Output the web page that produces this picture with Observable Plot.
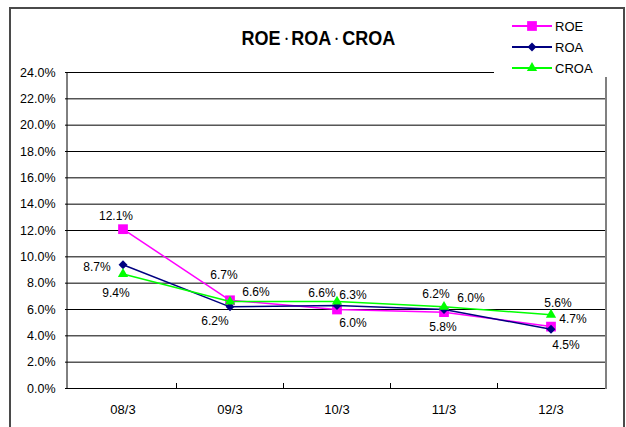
<!DOCTYPE html>
<html>
<head>
<meta charset="utf-8">
<script src="https://cdn.jsdelivr.net/npm/d3@7"></script>
<script src="https://cdn.jsdelivr.net/npm/@observablehq/plot@0.6"></script>
<style>
  html, body { margin: 0; padding: 0; background: #fff; overflow: hidden; }
  #wrap { position: relative; width: 626px; height: 427px; overflow: hidden; font-family: "Liberation Sans", Arial, sans-serif; }
  #frame { position: absolute; left: 9px; top: 7px; width: 616px; height: 440px; border: 2px solid #4a4a4a; box-sizing: border-box; }
  #chart { position: absolute; left: 0; top: 0; }
  #title { position: absolute; left: 0; width: 636px; top: 26px; text-align: center; color: #000; }
  #title .t { display: inline-block; transform: scaleX(0.9); font-weight: bold; font-size: 20px; line-height: 24px; font-family: "Liberation Sans", Arial, sans-serif; white-space: nowrap; }
  #title .dot { font-size: 12px; vertical-align: 2px; }
  #legend { position: absolute; left: 494px; top: 13px; width: 126px; height: 64px; background: #fff; }
  .row { position: absolute; left: 0; height: 20px; display: flex; align-items: center; font-size: 13px; color: #000; }
  .row svg { margin-left: 18px; margin-right: 3px; }
</style>
</head>
<body>
<div id="wrap">
  <div id="frame"></div>
  <div id="chart"></div>
  <div id="title"><span class="t">ROE<span class="dot">・</span>ROA<span class="dot">・</span>CROA</span></div>
  <div id="legend"></div>
</div>
<script>
// ---- data ----
const categories = ["08/3", "09/3", "10/3", "11/3", "12/3"];
const seriesNames = ["ROE", "ROA", "CROA"];
const roe  = [12.1, 6.7, 6.0, 5.8, 4.7];
const roa  = [9.4, 6.2, 6.3, 6.0, 4.5];
const croa = [8.7, 6.6, 6.6, 6.2, 5.6];
const yTicks = [0, 2, 4, 6, 8, 10, 12, 14, 16, 18, 20, 22, 24];

// ---- styles / label placement (not data) ----
const colors  = ["#FF00FF", "#000080", "#00FF00"];
const symbols = ["square", "diamond2", "triangle"];
const radii   = [5.5, 4.0, 3.8];
const labelOffsets = [
  [[-7, -13], [-6, -25], [16, 14], [-1, 15], [22, -7]],
  [[-7, 28], [-15, 14], [16, -10], [27, -11], [15, 16]],
  [[-26, -7], [26, -9], [-15, -8], [-8, -13], [7, -12]]
];

const values = [roe, roa, croa];
const rows = [];
seriesNames.forEach((s, si) => {
  categories.forEach((c, ci) => rows.push({series: s, si, cat: c, ci, value: values[si][ci]}));
});

const W = 626, H = 427;
const marks = [];
marks.push(Plot.ruleY(yTicks, {stroke: "#000", strokeWidth: 1}));

// axis lines and boundary ticks drawn through the scales
marks.push((index, scales, vals, dims) => {
  const g = d3.create("svg:g");
  const x0 = dims.marginLeft, x1 = dims.width - dims.marginRight;
  const yTop = scales.y(24), yBot = scales.y(0);
  g.append("line").attr("x1", x0).attr("x2", x0).attr("y1", yTop).attr("y2", yBot).attr("stroke", "#000");
  g.append("line").attr("x1", x1).attr("x2", x1).attr("y1", yTop).attr("y2", yBot + 1).attr("stroke", "#808080").attr("stroke-width", 2);
  categories.slice(1).forEach(c => {
    const xx = Math.round(scales.x(c)) + 0.5;
    g.append("line").attr("x1", xx).attr("x2", xx).attr("y1", yBot).attr("y2", yBot - 5).attr("stroke", "#000");
  });
  return g.node();
});

seriesNames.forEach((s, si) => {
  const d = rows.filter(r => r.si === si);
  marks.push(Plot.line(d, {x: "cat", y: "value", stroke: colors[si], strokeWidth: 1.5}));
  marks.push(Plot.dot(d, {x: "cat", y: "value", symbol: symbols[si], r: radii[si], fill: colors[si], stroke: "none"}));
});

rows.forEach(r => {
  const [dx, dy] = labelOffsets[r.si][r.ci];
  marks.push(Plot.text([r], {x: "cat", y: "value", text: d => d.value.toFixed(1) + "%", dx, dy, fontSize: 12, fill: "#000"}));
});

marks.push(Plot.axisY({ticks: yTicks, tickFormat: d => d.toFixed(1) + "%", tickSize: 2, tickPadding: 10, fontSize: 12.5, stroke: "#000"}));
marks.push(Plot.axisX({tickSize: 0, tickPadding: 16, fontSize: 13}));

const chart = Plot.plot({
  width: W, height: H,
  marginLeft: 67, marginRight: 20, marginTop: 72, marginBottom: 39,
  style: {fontFamily: "'Liberation Sans', Arial, sans-serif", color: "#000", background: "transparent", overflow: "visible"},
  x: {type: "band", domain: categories, padding: 0, label: null},
  y: {domain: [0, 24], label: null},
  marks
});
document.getElementById("chart").appendChild(chart);

// legend
const legend = d3.select("#legend");
seriesNames.forEach((s, si) => {
  const row = legend.append("div").attr("class", "row").style("top", (3 + si * 21) + "px");
  const svg = row.append("svg").attr("width", 40).attr("height", 14);
  svg.append("line").attr("x1", 0).attr("x2", 40).attr("y1", 7).attr("y2", 7).attr("stroke", colors[si]).attr("stroke-width", 2);
  const sym = {square: d3.symbolSquare, diamond2: d3.symbolDiamond2, triangle: d3.symbolTriangle}[symbols[si]];
  svg.append("path").attr("transform", "translate(20,7)").attr("d", d3.symbol(sym, Math.PI * radii[si] * radii[si])()).attr("fill", colors[si]);
  row.append("span").text(s);
});
</script>
</body>
</html>
